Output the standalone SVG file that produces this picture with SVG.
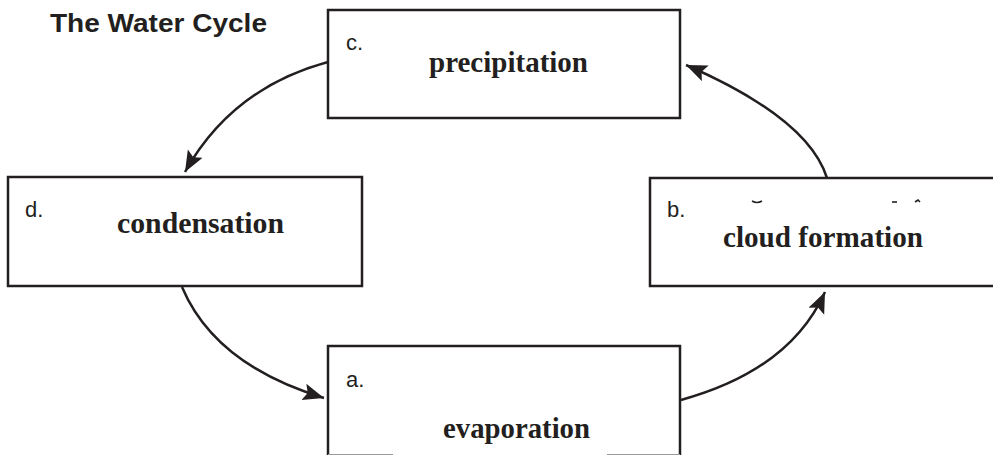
<svg xmlns="http://www.w3.org/2000/svg" width="993" height="455" viewBox="0 0 993 455">
<style>
.box{fill:#fff;stroke:#231f20;stroke-width:2.5}
.edge{fill:none;stroke:#231f20;stroke-width:2.5}
.lbl{font-family:"Liberation Sans",Arial,sans-serif;font-size:22px;fill:#231f20}
.term{font-family:"Liberation Serif","Times New Roman",serif;font-weight:bold;font-size:29px;fill:#231f20}
.title{font-family:"Liberation Sans",Arial,sans-serif;font-weight:bold;font-size:25px;fill:#231f20}
.frag{fill:none;stroke:#231f20;stroke-width:1.6}
</style>
<defs>
<marker id="ah" markerUnits="userSpaceOnUse" markerWidth="22" markerHeight="18" refX="21" refY="8.5" orient="auto">
<path d="M0,0 L21,8.5 L0,17 L4,8.5 z" fill="#231f20"/>
</marker>
</defs>
<rect width="993" height="455" fill="#fff"/>
<text class="title" x="50" y="32" textLength="217" lengthAdjust="spacingAndGlyphs">The Water Cycle</text>

<g id="connectors">
<path class="edge" d="M328,62 Q232,88 185,172" marker-end="url(#ah)"/>
<path class="edge" d="M182,287 Q215,365 324,398" marker-end="url(#ah)"/>
<path class="edge" d="M681,400 Q790,370 825,292" marker-end="url(#ah)"/>
<path class="edge" d="M827,178 Q808,118 686,65" marker-end="url(#ah)"/>
</g>

<g id="node-c">
<rect class="box" x="328" y="10" width="352" height="108"/>
<text class="lbl" x="346" y="50">c.</text>
<text class="term" x="429" y="72" textLength="159" lengthAdjust="spacingAndGlyphs">precipitation</text>
</g>

<g id="node-d">
<rect class="box" x="8" y="177" width="354" height="109"/>
<text class="lbl" x="25" y="217">d.</text>
<text class="term" x="117" y="233" textLength="167" lengthAdjust="spacingAndGlyphs">condensation</text>
</g>

<g id="node-b">
<path d="M997,178 L650,178 L650,286 L997,286" fill="#fff" stroke="#231f20" stroke-width="2.5"/>
<text class="lbl" x="667" y="217">b.</text>
<path class="frag" d="M752,201 Q757,204 762,201"/>
<path class="frag" d="M892,202 L897,202"/>
<path class="frag" d="M915,202 L918,200 L920,202"/>
<text class="term" x="723" y="247" textLength="200" lengthAdjust="spacingAndGlyphs">cloud formation</text>
</g>

<g id="node-a">
<path d="M328,460 L328,346 L680,346 L680,460" fill="#fff" stroke="#231f20" stroke-width="2.5"/>
<line x1="328" y1="454.5" x2="393" y2="454.5" stroke="#9a9a9a" stroke-width="1"/>
<line x1="607" y1="454.5" x2="680" y2="454.5" stroke="#9a9a9a" stroke-width="1"/>
<text class="lbl" x="346" y="387">a.</text>
<text class="term" x="443" y="438" textLength="147" lengthAdjust="spacingAndGlyphs">evaporation</text>
</g>
</svg>
